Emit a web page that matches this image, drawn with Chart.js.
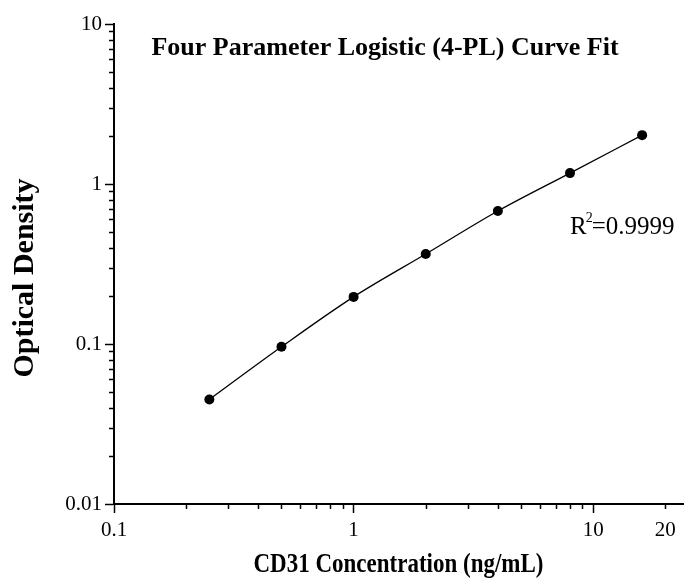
<!DOCTYPE html>
<html>
<head>
<meta charset="utf-8">
<script src="https://cdn.jsdelivr.net/npm/chart.js@4.4.0/dist/chart.umd.min.js"></script>
<style>
  html, body { margin: 0; padding: 0; background: #fff; }
  #wrap { position: relative; width: 688px; height: 582px; }
</style>
</head>
<body>
<div id="wrap"><canvas id="myChart"></canvas></div>
<script>
// standards
var concentrations = [0.25, 0.5, 1, 2, 4, 8, 16];
var densities = [0.045, 0.096, 0.197, 0.365, 0.678, 1.17, 2.02];

var xTickValues = [0.1, 0.2, 0.3, 0.4, 0.5, 0.6, 0.7, 0.8, 0.9,
                   1, 2, 3, 4, 5, 6, 7, 8, 9, 10, 20];
var xTickLabels = ['0.1', '1', '10', '20'];
var yTickValues = [0.01, 0.02, 0.03, 0.04, 0.05, 0.06, 0.07, 0.08, 0.09,
                   0.1, 0.2, 0.3, 0.4, 0.5, 0.6, 0.7, 0.8, 0.9,
                   1, 2, 3, 4, 5, 6, 7, 8, 9, 10];
var yTickLabels = ['0.01', '0.1', '1', '10'];

var chartTitle = 'Four Parameter Logistic (4-PL) Curve Fit';
var xTitle = 'CD31 Concentration (ng/mL)';
var yTitle = 'Optical Density';
var rSquared = '0.9999';

var SERIF = '"Liberation Serif", "Times New Roman", serif';

function isDecade(v) {
  var l = Math.log10(v);
  return Math.abs(l - Math.round(l)) < 1e-9;
}

function setTicks(values) {
  return function (scale) {
    scale.ticks = values.map(function (v) { return { value: v, major: isDecade(v) }; });
  };
}

function labelFor(list) {
  return function (value) {
    var s = String(value);
    return list.indexOf(s) >= 0 ? s : '';
  };
}

// short unlabelled ticks, titles and the R^2 note
var extras = {
  id: 'extras',
  afterDraw: function (chart) {
    var ctx = chart.ctx, xs = chart.scales.x, ys = chart.scales.y, area = chart.chartArea;
    ctx.save();
    ctx.strokeStyle = '#000';
    ctx.lineWidth = 1.5;
    ctx.beginPath();
    xs.ticks.forEach(function (t) {
      if (t.major) return;
      var px = Math.round(xs.getPixelForValue(t.value)) + 0.5;
      ctx.moveTo(px, area.bottom);
      ctx.lineTo(px, area.bottom + 5);
    });
    ys.ticks.forEach(function (t) {
      if (t.major) return;
      var py = Math.round(ys.getPixelForValue(t.value)) + 0.5;
      ctx.moveTo(area.left, py);
      ctx.lineTo(area.left - 5, py);
    });
    ctx.stroke();

    ctx.fillStyle = '#000';
    ctx.font = 'bold 26px ' + SERIF;
    ctx.textAlign = 'center';
    ctx.textBaseline = 'middle';
    ctx.fillText(chartTitle, area.left + 271, area.top + 24);

    // y axis title
    ctx.save();
    ctx.translate(25, area.top + 254);
    ctx.rotate(-Math.PI / 2);
    ctx.font = 'bold 30px ' + SERIF;
    ctx.fillText(yTitle, 0, 0);
    ctx.restore();

    // x axis title, a little taller than wide like the original
    ctx.save();
    ctx.translate((area.left + area.right) / 2, 565);
    ctx.scale(1, 1.2);
    ctx.font = 'bold 23px ' + SERIF;
    ctx.fillText(xTitle, 0, 0);
    ctx.restore();

    // R^2 label anchored in data space
    var rx = xs.getPixelForValue(8.0);
    var ry = ys.getPixelForValue(0.487);
    ctx.textAlign = 'left';
    ctx.textBaseline = 'alphabetic';
    ctx.font = '25px ' + SERIF;
    ctx.fillText('R', rx, ry);
    var w = ctx.measureText('R').width;
    ctx.font = '14px ' + SERIF;
    ctx.fillText('2', rx + w - 1, ry - 12);
    var w2 = ctx.measureText('2').width;
    ctx.font = '25px ' + SERIF;
    ctx.fillText('=' + rSquared, rx + w + w2 - 2, ry);
    ctx.restore();
  }
};

var ctx = document.getElementById('myChart').getContext('2d');
var myChart = new Chart(ctx, {
  type: 'line',
  data: {
    datasets: [{
      data: concentrations.map(function (c, i) { return { x: c, y: densities[i] }; }),
      borderColor: '#000',
      borderWidth: 1.3,
      backgroundColor: '#000',
      pointBackgroundColor: '#000',
      pointBorderWidth: 0,
      pointRadius: 5,
      cubicInterpolationMode: 'monotone',
      fill: false,
      clip: false
    }]
  },
  options: {
    responsive: true,
    maintainAspectRatio: false,
    animation: false,
    layout: { padding: { top: 24, right: 2, left: 0, bottom: 0 } },
    plugins: {
      legend: { display: false },
      tooltip: { enabled: false },
      title: { display: false }
    },
    scales: {
      x: {
        type: 'logarithmic',
        min: 0.1,
        max: 23.7,
        afterBuildTicks: setTicks(xTickValues),
        afterFit: function (scale) { scale.height = 78; },
        border: { display: true, color: '#000', width: 2 },
        grid: {
          display: true,
          drawOnChartArea: false,
          tickLength: 9,
          tickWidth: 1.5,
          tickColor: function (c) { return c.tick && c.tick.major ? '#000' : 'rgba(0,0,0,0)'; }
        },
        ticks: {
          autoSkip: false,
          maxRotation: 0,
          padding: 5,
          color: '#000',
          font: { family: SERIF, size: 21 },
          callback: labelFor(xTickLabels)
        },
        title: { display: false }
      },
      y: {
        type: 'logarithmic',
        min: 0.01,
        max: 10,
        afterBuildTicks: setTicks(yTickValues),
        afterFit: function (scale) { scale.width = 114; },
        border: { display: true, color: '#000', width: 2 },
        grid: {
          display: true,
          drawOnChartArea: false,
          tickLength: 9,
          tickWidth: 1.5,
          tickColor: function (c) { return c.tick && c.tick.major ? '#000' : 'rgba(0,0,0,0)'; }
        },
        ticks: {
          autoSkip: false,
          padding: 3,
          color: '#000',
          font: { family: SERIF, size: 21 },
          callback: labelFor(yTickLabels)
        },
        title: { display: false }
      }
    }
  },
  plugins: [extras]
});
</script>
</body>
</html>
